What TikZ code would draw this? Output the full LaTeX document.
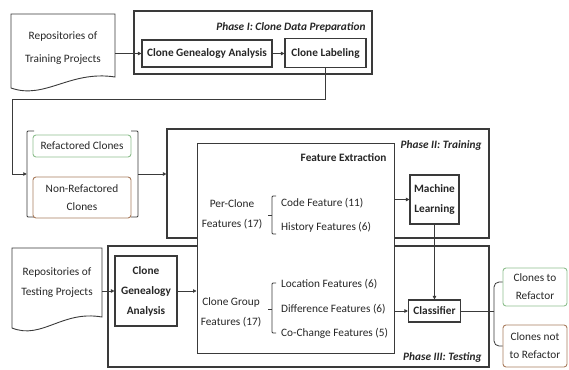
\documentclass[tikz,border=0pt]{standalone}
\usepackage{fontspec}
\setmainfont{Carlito}
\usetikzlibrary{arrows.meta}
\definecolor{lnc}{HTML}{3A3A3A}
\definecolor{grn}{HTML}{8DBE8D}
\definecolor{brn}{HTML}{A87C5E}
\begin{document}
\begin{tikzpicture}[x=1pt,y=-1pt,
  every node/.style={font=\fontsize{11.3}{20}\selectfont, text=black!85},
  phase/.style={draw=lnc, line width=1.2pt},
  proc/.style={draw=lnc, line width=1.1pt, font=\fontsize{11.3}{20}\selectfont\bfseries, align=center, inner sep=0pt},
  ghost/.style={inner sep=0pt, align=center},
  outbox/.style={draw=#1, line width=0.9pt, rounded corners=3pt, align=center, inner sep=0pt, font=\fontsize{11.3}{18}\selectfont},
  arr/.style={-{Triangle[length=3.5pt,width=3.5pt]}, line width=0.8pt, draw=lnc},
  conn/.style={line width=0.8pt, draw=lnc},
  plabel/.style={font=\fontsize{11.3}{12}\selectfont\bfseries\itshape, anchor=east},
  brk/.style={line width=0.9pt, draw=lnc, rounded corners=1pt},
  doc/.style={draw=lnc, line width=0.9pt}
]
\useasboundingbox (0,0) rectangle (569,369);

% ---------- Phase I ----------
\draw[phase] (134,11) rectangle (372,74);
\node[plabel] (p1) at (369,27) {Phase I: Clone Data Preparation};
\node[proc, minimum width=130pt, minimum height=27pt] (cga1) at (207,53.5) {Clone Genealogy Analysis};
\node[proc, minimum width=81pt, minimum height=29pt] (cl) at (325.5,53) {Clone Labeling};

\draw[doc] (11,14) -- (115,14) -- (115,77) .. controls (70,70) and (45,100) .. (11,88) -- cycle;
\node[ghost, minimum width=104pt, minimum height=60pt, font=\fontsize{11.3}{23}\selectfont] (doc1) at (63,48) {Repositories of\\Training Projects};

\draw[arr] (doc1.east |- cga1.west) -- (cga1.west);
\draw[arr] (cga1.east) -- (cl.west |- cga1.east);

% ---------- labelled clone groups ----------
\node[ghost, minimum width=111pt, minimum height=86pt] (grp) at (82.5,174) {};
\draw[brk] (34,131) -- (27,131) -- (27,217) -- (34,217);
\draw[brk] (131,131) -- (138,131) -- (138,217) -- (131,217);
\node[outbox=grn, minimum width=98pt, minimum height=22pt] (ref) at (82,146) {Refactored Clones};
\node[outbox=brn, minimum width=98pt, minimum height=41pt] (nref) at (82,197.5) {Non-Refactored\\Clones};

\coordinate (turn) at (12,99);
\draw[arr] (cl.south) |- (turn) |- (grp.west);

% ---------- Phase II / III ----------
\node[phase, minimum width=322pt, minimum height=109pt, inner sep=0pt] (ph2) at (328,183.5) {};
\node[plabel] (p2) at (485,145) {Phase II: Training};
\node[phase, minimum width=381pt, minimum height=121pt, inner sep=0pt] (ph3) at (298.5,306.5) {};
\node[plabel] (p3) at (485,357) {Phase III: Testing};

\draw[arr] (grp.east) -- (ph2.west |- grp.east);

% ---------- Feature extraction ----------
\node[draw=lnc, line width=1pt, fill=white, minimum width=197pt, minimum height=210pt, inner sep=0pt] (fe) at (295.5,248) {};
\node[anchor=east, font=\fontsize{11.3}{12}\selectfont\bfseries] (fet) at (390,158) {Feature Extraction};

\node[ghost] (pcf) at (232,214) {Per-Clone\\Features (17)};
\draw[brk] (276,196) -- (272,196) -- (272,234) -- (276,234);
\draw[brk] (272,215) -- (268,215);
\node[anchor=west, inner sep=0pt] (code) at (281,203) {Code Feature (11)};
\node[anchor=west, inner sep=0pt] (hist) at (281,227) {History Features (6)};

\node[ghost] (cgf) at (231,312.5) {Clone Group\\Features (17)};
\draw[brk] (276,283) -- (272,283) -- (272,333) -- (276,333);
\draw[brk] (272,309) -- (268,309);
\node[anchor=west, inner sep=0pt] (loc) at (281,284) {Location Features (6)};
\node[anchor=west, inner sep=0pt] (diff) at (281,309) {Difference Features (6)};
\node[anchor=west, inner sep=0pt] (coch) at (281,333) {Co-Change Features (5)};

% ---------- ML and classifier ----------
\node[proc, minimum width=49pt, minimum height=49pt] (ml) at (434.5,199.5) {Machine\\Learning};
\node[proc, minimum width=52pt, minimum height=22pt] (clf) at (434.5,311) {Classifier};
\draw[arr] (fe.east |- ml.west) -- (ml.west);
\draw[arr] (ml.south) -- (clf.north);
\draw[arr] (fe.east |- clf.west) -- (clf.west);

% ---------- testing input ----------
\draw[doc] (12,248) -- (102,248) -- (102,317) .. controls (62,310) and (42,340) .. (12,328) -- cycle;
\node[ghost, minimum width=90pt, minimum height=60pt] (doc2) at (57,283) {Repositories of\\Testing Projects};
\node[proc, minimum width=62pt, minimum height=70pt] (cga2) at (146,291) {Clone\\Genealogy\\Analysis};
\draw[arr] (doc2.east |- cga2.west) -- (cga2.west);
\draw[arr] (cga2.east) -- (cga2.east -| fe.west);

% ---------- outputs ----------
\node[outbox=grn, minimum width=64pt, minimum height=38pt] (ctr) at (535,287) {Clones to\\Refactor};
\node[outbox=brn, minimum width=64pt, minimum height=42pt] (ctnr) at (535,346) {Clones not\\to Refactor};
\coordinate (split) at (494,311);
\draw[conn] (clf.east) -- (split);
\draw[conn, rounded corners=5pt] (split) |- ([yshift=5pt]ctr.west);
\draw[conn, rounded corners=5pt] (split) |- (ctnr.west);
\end{tikzpicture}
\end{document}
